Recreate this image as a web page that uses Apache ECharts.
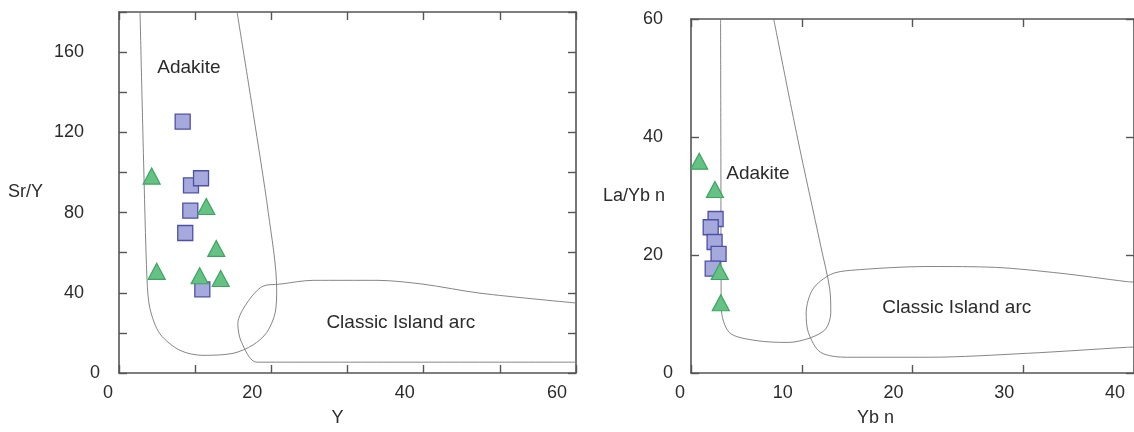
<!DOCTYPE html>
<html>
<head>
<meta charset="utf-8">
<script src="https://cdn.jsdelivr.net/npm/echarts@6/dist/echarts.min.js"></script>
<style>
html,body{margin:0;padding:0;background:#fff;}
#c{width:1134px;height:432px;}
</style>
</head>
<body>
<div id="c"></div>
<script>
// ---- Left diagram: Sr/Y vs Y ----
var leftSquares = [[8.36,125.3],[9.45,93.6],[10.77,97.1],[9.36,81.0],[8.70,69.8],[10.94,41.7]];
var leftTriangles = [[4.29,98.2],[11.46,83.0],[12.77,62.1],[4.95,50.7],[10.59,48.5],[13.35,47.1]];
var leftAdakiteField = [[2.76,180],[3.2,110],[3.68,46.7],[4.07,32.0],[5.38,19.5],[8.01,11.3],[11.03,8.8],[14.97,9.8],[17.6,14.0],[19.4,20.2],[20.5,30],[20.7,41.8],[19.6,80],[17.6,130],[15.5,180]];
var leftArcField = [[60,34.9],[47.4,39.8],[39.9,44.3],[33.9,46.2],[25.5,46.2],[21.1,44.3],[18.9,43.3],[16.8,34.9],[15.6,24.6],[16.1,15.2],[18.1,5.4],[40,5.4],[60,5.4]];
var leftFieldLabels = [{name:'Adakite',value:[9.19,152]},{name:'Classic Island arc',value:[37.0,25.1]}];
var leftXTicks = [0,20,40,60];
var leftYTicks = [0,40,80,120,160];

// ---- Right diagram: La/Yb n vs Yb n ----
var rightSquares = [[2.22,26.1],[1.78,24.7],[2.13,22.2],[2.49,20.2],[1.96,17.7]];
var rightTriangles = [[0.74,35.9],[2.16,31.1],[2.60,17.2],[2.69,11.9]];
var rightAdakiteField = [[2.67,60],[2.7,35],[2.73,11.1],[3.47,6.85],[5.87,5.5],[8.8,5.18],[10.84,6.0],[12.18,7.5],[12.62,10.2],[12.53,14.2],[11.73,21.4],[9.6,40],[7.47,60]];
var rightArcField = [[40,15.4],[39.3,15.5],[33.4,16.9],[27.5,17.9],[21.5,18.05],[14.4,17.4],[12.6,16.7],[11.0,14.2],[10.4,10.2],[10.6,6.85],[11.7,3.5],[14.1,2.67],[21.5,2.67],[30.4,3.34],[39.3,4.35],[40,4.4]];
var rightFieldLabels = [{name:'Adakite',value:[6.04,33.8]},{name:'Classic Island arc',value:[24.0,11.0]}];
var rightXTicks = [0,10,20,30,40];
var rightYTicks = [0,20,40,60];

var FONT = 'Liberation Sans, Arial, sans-serif';
var TXT = '#2b2b2b';
var AXC = '#555';

function xLabelFmt(ticks){
  return function(v){
    if (ticks.indexOf(v) < 0) return '';
    return v === 0 ? '{z|0}' : '{n|' + v + '}';
  };
}
function yLabelFmt(ticks){
  return function(v){
    if (ticks.indexOf(v) < 0) return '';
    return v === 0 ? '{z|0}' : '{n|' + v + '}';
  };
}
var richX = {
  z:{fontSize:18,fontFamily:FONT,color:TXT,padding:[0,22,0,0]},
  n:{fontSize:18,fontFamily:FONT,color:TXT,padding:[0,38,0,0]}
};
function richY(pad){
  return {
    z:{fontSize:18,fontFamily:FONT,color:TXT},
    n:{fontSize:18,fontFamily:FONT,color:TXT,padding:[0,pad,0,0]}
  };
}

var tickStyle = {inside:true,length:8,lineStyle:{color:AXC,width:1.4}};
var lineStyleAx = {onZero:false,lineStyle:{color:AXC,width:1.6}};

function frameX(grid, min, max, interval, ticks, name, namePad){
  return [
    {gridIndex:grid,type:'value',position:'bottom',min:min,max:max,interval:interval,
     name:name,nameLocation:'middle',nameGap:36,nameMoveOverlap:false,
     nameTextStyle:{fontSize:18,fontFamily:FONT,color:TXT,padding:[0,namePad,0,0]},
     axisLine:lineStyleAx,axisTick:tickStyle,
     axisLabel:{formatter:xLabelFmt(ticks),margin:11,rich:richX,showMaxLabel:true,showMinLabel:true},
     splitLine:{show:false}},
    {gridIndex:grid,type:'value',position:'top',min:min,max:max,interval:interval,
     axisLine:lineStyleAx,axisTick:tickStyle,
     axisLabel:{show:false},splitLine:{show:false}}
  ];
}
function frameY(grid, min, max, interval, ticks, name, nameGap, labelMargin, pad){
  return [
    {gridIndex:grid,type:'value',position:'left',min:min,max:max,interval:interval,
     name:name,nameLocation:'middle',nameRotate:0,nameGap:nameGap,nameMoveOverlap:false,
     nameTextStyle:{fontSize:18,fontFamily:FONT,color:TXT},
     axisLine:lineStyleAx,axisTick:tickStyle,
     axisLabel:{formatter:yLabelFmt(ticks),margin:labelMargin,rich:richY(pad),showMaxLabel:true},
     splitLine:{show:false}},
    {gridIndex:grid,type:'value',position:'right',min:min,max:max,interval:interval,
     axisLine:lineStyleAx,axisTick:tickStyle,
     axisLabel:{show:false},splitLine:{show:false}}
  ];
}

var squareStyle = {color:'#a6a9dc',borderColor:'#4d50a8',borderWidth:1.3,opacity:1};
var triStyle = {color:'#66c185',borderColor:'#3aa65e',borderWidth:1.2,opacity:1};
var fieldLine = {color:'#777',width:0.9};

function fieldSeries(xi, yi, data){
  return {type:'line',xAxisIndex:xi,yAxisIndex:yi,data:data,smooth:0.3,showSymbol:false,symbol:'none',
    lineStyle:fieldLine,silent:true,z:1,animation:false};
}
function labelSeries(xi, yi, data){
  return {type:'scatter',xAxisIndex:xi,yAxisIndex:yi,data:data,symbolSize:0,silent:true,z:5,
    itemStyle:{opacity:1},
    label:{show:true,position:'inside',formatter:'{b}',fontSize:19,fontFamily:FONT,color:TXT,opacity:1}};
}
function pointSeries(xi, yi, data, sym, size, style, z){
  return {type:'scatter',xAxisIndex:xi,yAxisIndex:yi,data:data,symbol:sym,symbolSize:size,itemStyle:style,z:z,animation:false};
}

var chart = echarts.init(document.getElementById('c'), null, {renderer:'canvas'});
chart.setOption({
  animation:false,
  backgroundColor:'#fff',
  grid:[
    {left:119,top:12,width:457,height:366},
    {left:691,top:19,width:450,height:359}
  ],
  xAxis: frameX(0,0,60,10,leftXTicks,'Y',20).concat(frameX(1,0,40,10,rightXTicks,'Yb n',74)),
  yAxis: frameY(0,0,180,20,leftYTicks,'Sr/Y',76,19,16).concat(frameY(1,0,60,20,rightYTicks,'La/Yb n',26,18,10)),
  series:[
    fieldSeries(0,0,leftAdakiteField),
    fieldSeries(0,0,leftArcField),
    labelSeries(0,0,leftFieldLabels),
    pointSeries(0,0,leftSquares,'rect',15,squareStyle,3),
    pointSeries(0,0,leftTriangles,'triangle',[17,16],triStyle,4),
    fieldSeries(2,2,rightAdakiteField),
    fieldSeries(2,2,rightArcField),
    labelSeries(2,2,rightFieldLabels),
    pointSeries(2,2,rightSquares,'rect',15,squareStyle,3),
    pointSeries(2,2,rightTriangles,'triangle',[17,16],triStyle,4)
  ]
});
</script>
</body>
</html>
